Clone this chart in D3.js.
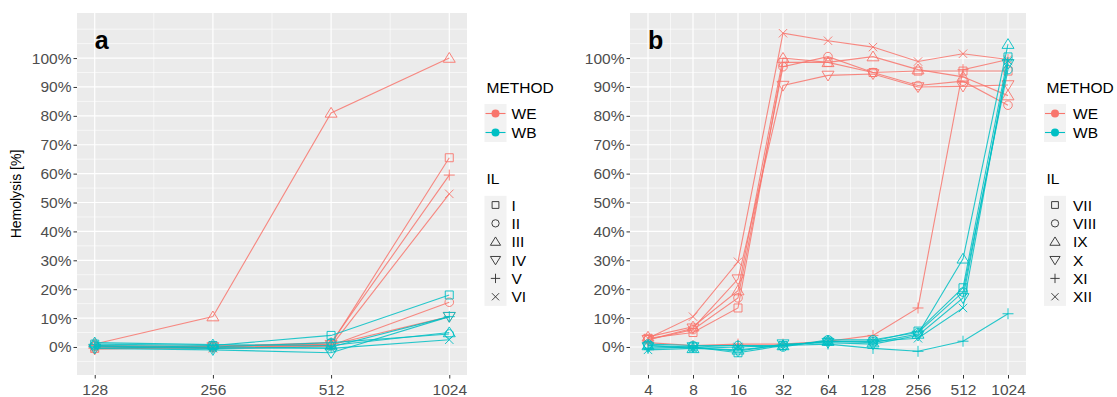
<!DOCTYPE html>
<html>
<head>
<meta charset="utf-8">
<script src="https://cdn.jsdelivr.net/npm/d3@7"></script>
<style>
  html, body { margin: 0; padding: 0; background: #ffffff; }
  svg { display: block; }
  text { font-family: "Liberation Sans", Arial, sans-serif; }
</style>
</head>
<body>
<svg id="chart" width="1117" height="397"></svg>
<script>
// ---- Data -------------------------------------------------------------
// Panel a: concentrations and hemolysis (%) per IL, for each method
const concA = [128, 256, 512, 1024];
const ilA = ["I", "II", "III", "IV", "V", "VI"];
const weA = [
  [-0.5, 0.3, 1.0, 65.5],
  [0.2, -0.2, 0.5, 15.5],
  [1.0, 10.5, 81.0, 100.0],
  [-0.8, 0.0, 0.8, 10.5],
  [0.5, 0.2, 1.5, 59.5],
  [-0.3, -0.5, 0.3, 53.0]
];
const wbA = [
  [1.0, 0.5, 4.0, 18.0],
  [0.5, 0.0, 1.5, 4.5],
  [1.5, 0.8, 0.5, 5.0],
  [-0.5, -1.0, -2.0, 10.5],
  [0.0, -0.5, 0.0, 10.5],
  [0.3, -0.3, -0.5, 2.5]
];

// Panel b
const concB = [4, 8, 16, 32, 64, 128, 256, 512, 1024];
const ilB = ["VII", "VIII", "IX", "X", "XI", "XII"];
const weB = [
  [3.0, 5.0, 13.5, 98.5, 98.5, 95.0, 95.5, 95.5, 95.5],
  [2.5, 6.0, 17.0, 97.0, 100.5, 95.0, 90.5, 92.0, 83.7],
  [3.5, 7.0, 19.5, 100.0, 98.5, 100.5, 96.0, 93.5, 87.0],
  [2.5, 6.5, 23.5, 90.5, 94.0, 94.5, 90.0, 90.2, 90.7],
  [1.5, 0.5, 1.0, 1.0, 2.0, 4.0, 13.5, 96.0, 99.5],
  [3.0, 10.5, 29.5, 108.6, 106.0, 103.8, 98.8, 101.5, 99.5]
];
const wbB = [
  [0.5, 0.0, -2.0, 0.5, 2.0, 2.0, 5.5, 20.5, 100.4],
  [1.0, 0.5, 0.5, 0.0, 2.5, 2.5, 5.0, 19.0, 96.0],
  [0.5, -0.5, -1.0, 0.5, 2.0, 1.5, 4.5, 30.5, 104.8],
  [0.0, 0.0, -1.5, 1.0, 1.5, 1.0, 4.0, 17.0, 98.0],
  [-0.5, 0.0, 0.5, 0.5, 1.0, -0.5, -1.5, 2.0, 11.5],
  [-1.0, -0.5, 0.0, 0.5, 2.0, 2.0, 3.0, 13.5, 99.0]
];

const yTicks = [0, 10, 20, 30, 40, 50, 60, 70, 80, 90, 100];
const methods = ["WE", "WB"];
const methodColors = ["#F8766D", "#00BFC4"];
const shapeNames = ["square", "circle", "triangle", "triangleDown", "plus", "cross"];

// ---- Helpers ----------------------------------------------------------
function shapePath(name) {
  switch (name) {
    case "square": return "M-4,-4H4V4H-4Z";
    case "circle": return d3.arc()({innerRadius: 0, outerRadius: 4.3, startAngle: 0, endAngle: 2 * Math.PI}) || "";
    case "triangle": return "M0,-5.6L6,4.2H-6Z";
    case "triangleDown": return "M0,5.6L6,-4.2H-6Z";
    case "plus": return "M-5.5,0H5.5M0,-5.5V5.5";
    case "cross": return "M-4.2,-4.2L4.2,4.2M-4.2,4.2L4.2,-4.2";
  }
  return "";
}

const svg = d3.select("#chart");

function drawPanel(cfg) {
  const x = d3.scaleLinear().domain(cfg.xDomain).range([cfg.left, cfg.right]);
  const y = d3.scaleLinear().domain([-9.7, 115.6]).range([375, 13]);
  const g = svg.append("g");

  // panel background
  g.append("rect")
    .attr("x", cfg.left).attr("y", 13)
    .attr("width", cfg.right - cfg.left).attr("height", 362)
    .attr("fill", "#EBEBEB");

  // minor grid
  const yMinor = d3.range(-5, 111, 5).filter(v => v % 10 !== 0).concat([110]);
  g.selectAll(".ymin").data(yMinor).enter().append("line")
    .attr("x1", cfg.left).attr("x2", cfg.right)
    .attr("y1", d => y(d)).attr("y2", d => y(d))
    .attr("stroke", "#fff").attr("stroke-width", 0.6);
  const lx = cfg.conc.map(c => Math.log2(c));
  const xMinor = lx.slice(0, -1).map((v, i) => (v + lx[i + 1]) / 2);
  g.selectAll(".xmin").data(xMinor).enter().append("line")
    .attr("y1", 13).attr("y2", 375)
    .attr("x1", d => x(d)).attr("x2", d => x(d))
    .attr("stroke", "#fff").attr("stroke-width", 0.6);

  // major grid
  g.selectAll(".ymaj").data(yTicks).enter().append("line")
    .attr("x1", cfg.left).attr("x2", cfg.right)
    .attr("y1", d => y(d)).attr("y2", d => y(d))
    .attr("stroke", "#fff").attr("stroke-width", 1.2);
  g.selectAll(".xmaj").data(lx).enter().append("line")
    .attr("y1", 13).attr("y2", 375)
    .attr("x1", d => x(d)).attr("x2", d => x(d))
    .attr("stroke", "#fff").attr("stroke-width", 1.2);

  // axes
  const yAxis = d3.axisLeft(y).tickValues(yTicks).tickSize(3.5).tickPadding(2)
    .tickFormat(d => d + "%");
  const ya = g.append("g").attr("transform", `translate(${cfg.left},0)`).call(yAxis);
  const xAxis = d3.axisBottom(x).tickValues(lx).tickSize(3.5).tickPadding(5)
    .tickFormat((d, i) => cfg.conc[i]);
  const xa = g.append("g").attr("transform", "translate(0,375)").call(xAxis);
  [ya, xa].forEach(a => {
    a.select(".domain").remove();
    a.selectAll(".tick line").attr("stroke", "#333333");
    a.selectAll(".tick text").attr("fill", "#4D4D4D")
      .style("font-size", "15.5px").style("font-family", "'Liberation Sans', Arial, sans-serif");
  });

  // series: lines then markers, WE first, WB on top
  const line = d3.line().x((d, i) => x(lx[i])).y(d => y(d));
  [cfg.we, cfg.wb].forEach((series, m) => {
    const col = methodColors[m];
    series.forEach((vals, k) => {
      g.append("path").attr("d", line(vals))
        .attr("fill", "none").attr("stroke", col)
        .attr("stroke-width", 1.1).attr("stroke-opacity", 0.85);
    });
    series.forEach((vals, k) => {
      g.selectAll(null).data(vals).enter().append("path")
        .attr("d", shapePath(shapeNames[k]))
        .attr("transform", (d, i) => `translate(${x(lx[i])},${y(d)})`)
        .attr("fill", "none").attr("stroke", col)
        .attr("stroke-width", 1).attr("stroke-opacity", 0.9);
    });
  });

  // panel letter
  g.append("text")
    .attr("x", x(lx[0])).attr("y", y(103.2))
    .attr("font-size", "25px").attr("font-weight", "bold").attr("fill", "#000")
    .text(cfg.letter);

  // legend
  const L = cfg.legend;
  const lg = svg.append("g");
  lg.append("text").attr("x", L.title).attr("y", 93).attr("font-size", "15.5px").text("METHOD");
  const mY = [113.5, 132.5];
  lg.append("rect").attr("x", L.key - 11).attr("y", mY[0] - 9.5)
    .attr("width", 22).attr("height", 38).attr("fill", "#F2F2F2");
  methods.forEach((m, i) => {
    lg.append("line").attr("x1", L.key - 10).attr("x2", L.key + 10)
      .attr("y1", mY[i]).attr("y2", mY[i])
      .attr("stroke", methodColors[i]).attr("stroke-width", 1.1);
    lg.append("circle").attr("cx", L.key).attr("cy", mY[i]).attr("r", 4)
      .attr("fill", methodColors[i]);
    lg.append("text").attr("x", L.label).attr("y", mY[i] + 5.5)
      .attr("font-size", "15.5px").text(m);
  });
  lg.append("text").attr("x", L.title).attr("y", 184).attr("font-size", "15.5px").text("IL");
  const ilY = d3.range(6).map(i => 205 + i * 18.35);
  lg.append("rect").attr("x", L.key - 11).attr("y", ilY[0] - 9.2)
    .attr("width", 22).attr("height", 18.35 * 6).attr("fill", "#F2F2F2");
  cfg.il.forEach((name, i) => {
    lg.append("path").attr("d", shapePath(shapeNames[i]))
      .attr("transform", `translate(${L.key},${ilY[i]}) scale(0.85)`)
      .attr("fill", "none").attr("stroke", "#333333").attr("stroke-width", 1.1);
    lg.append("text").attr("x", L.label).attr("y", ilY[i] + 5.5)
      .attr("font-size", "15.5px").text(name);
  });
}

drawPanel({
  conc: concA, xDomain: [6.85, 10.15], left: 77, right: 467,
  we: weA, wb: wbA, il: ilA, letter: "a",
  legend: {title: 486.5, key: 495.5, label: 511.5}
});
drawPanel({
  conc: concB, xDomain: [1.6, 10.4], left: 630, right: 1026,
  we: weB, wb: wbB, il: ilB, letter: "b",
  legend: {title: 1046.5, key: 1055, label: 1073}
});

// y axis title
svg.append("text")
  .attr("transform", "translate(21,194) rotate(-90)")
  .attr("text-anchor", "middle").attr("font-size", "14px").attr("fill", "#000")
  .text("Hemolysis [%]");
</script>
</body>
</html>
